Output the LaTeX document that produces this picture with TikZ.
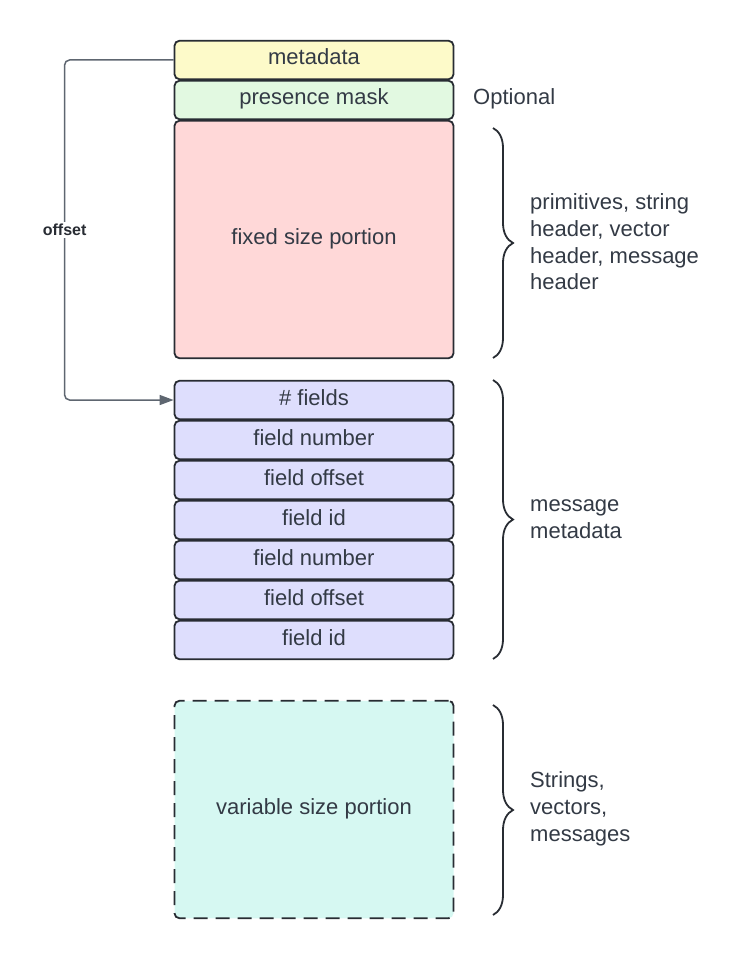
\documentclass[tikz,border=0pt]{standalone}
\usepackage{fontspec}
\setmainfont{Liberation Sans}
\usepackage{xcolor}
\usetikzlibrary{decorations.pathreplacing}
\usetikzlibrary{arrows, arrows.meta}

\definecolor{ink}{HTML}{282C33}
\definecolor{txt}{HTML}{333A45}
\definecolor{wire}{HTML}{5E6670}
\definecolor{metayellow}{HTML}{FDFAC9}
\definecolor{maskgreen}{HTML}{E2F9E1}
\definecolor{fixedred}{HTML}{FFD8D8}
\definecolor{fieldblue}{HTML}{DEDEFD}
\definecolor{varteal}{HTML}{D6F8F2}

\begin{document}
\begin{tikzpicture}[x=1pt, y=-1pt,
    cell/.style={draw=ink, line width=1.8pt, rounded corners=5pt, minimum width=279pt,
                 minimum height=38.5pt, inner sep=0pt, text height=16pt, text depth=6pt,
                 text=txt, font=\fontsize{22}{26}\selectfont},
    side/.style={anchor=west, align=left, text=txt, inner sep=0pt,
                 font=\fontsize{22}{26.7}\selectfont},
    curly/.style={draw=ink, line width=1.8pt, decorate, decoration={brace, amplitude=20pt}}]
    \useasboundingbox (0,0) rectangle (754,960);
    \node[cell, fill=metayellow] (meta) at (314,60) {metadata};
    \node[cell, fill=maskgreen] (mask) at (314,100) {presence mask};
    \node[cell, fill=fixedred, minimum height=237.5pt] (fixed) at (314,239.5) {fixed size portion};
    \foreach \lbl [count=\i from 0] in {\# fields, field number, field offset, field id, field number, field offset, field id}
        {
          \node[cell, fill=fieldblue] (f\i) at (314,{400+40*\i}) {\lbl};
        };
    \node[cell, fill=varteal, dash pattern=on 14pt off 8pt, minimum height=217.5pt] (var) at (314,809.5) {variable size portion};

    \draw[wire, line width=1.5pt, rounded corners=5pt, -{Triangle[length=14pt, width=10pt]}]
        (meta.west) -- ++(-109,0) |- node[pos=0.25, fill=white, text=ink, inner sep=2pt,
        font=\bfseries\fontsize{16}{18}\selectfont] (offl) {offset} (f0.west);

    \node[side] (optl) at (473,99) {Optional};
    \draw[curly] (493,128) -- (493,358);
    \node[side] (priml) at (530,242) {primitives, string\\header, vector\\header, message\\header};
    \draw[curly] (493,380) -- (493,659);
    \node[side] (msgl) at (530,519) {message\\metadata};
    \draw[curly] (493,705) -- (493,915);
    \node[side] (varl) at (530,809) {Strings,\\vectors,\\messages};
\end{tikzpicture}
\end{document}
